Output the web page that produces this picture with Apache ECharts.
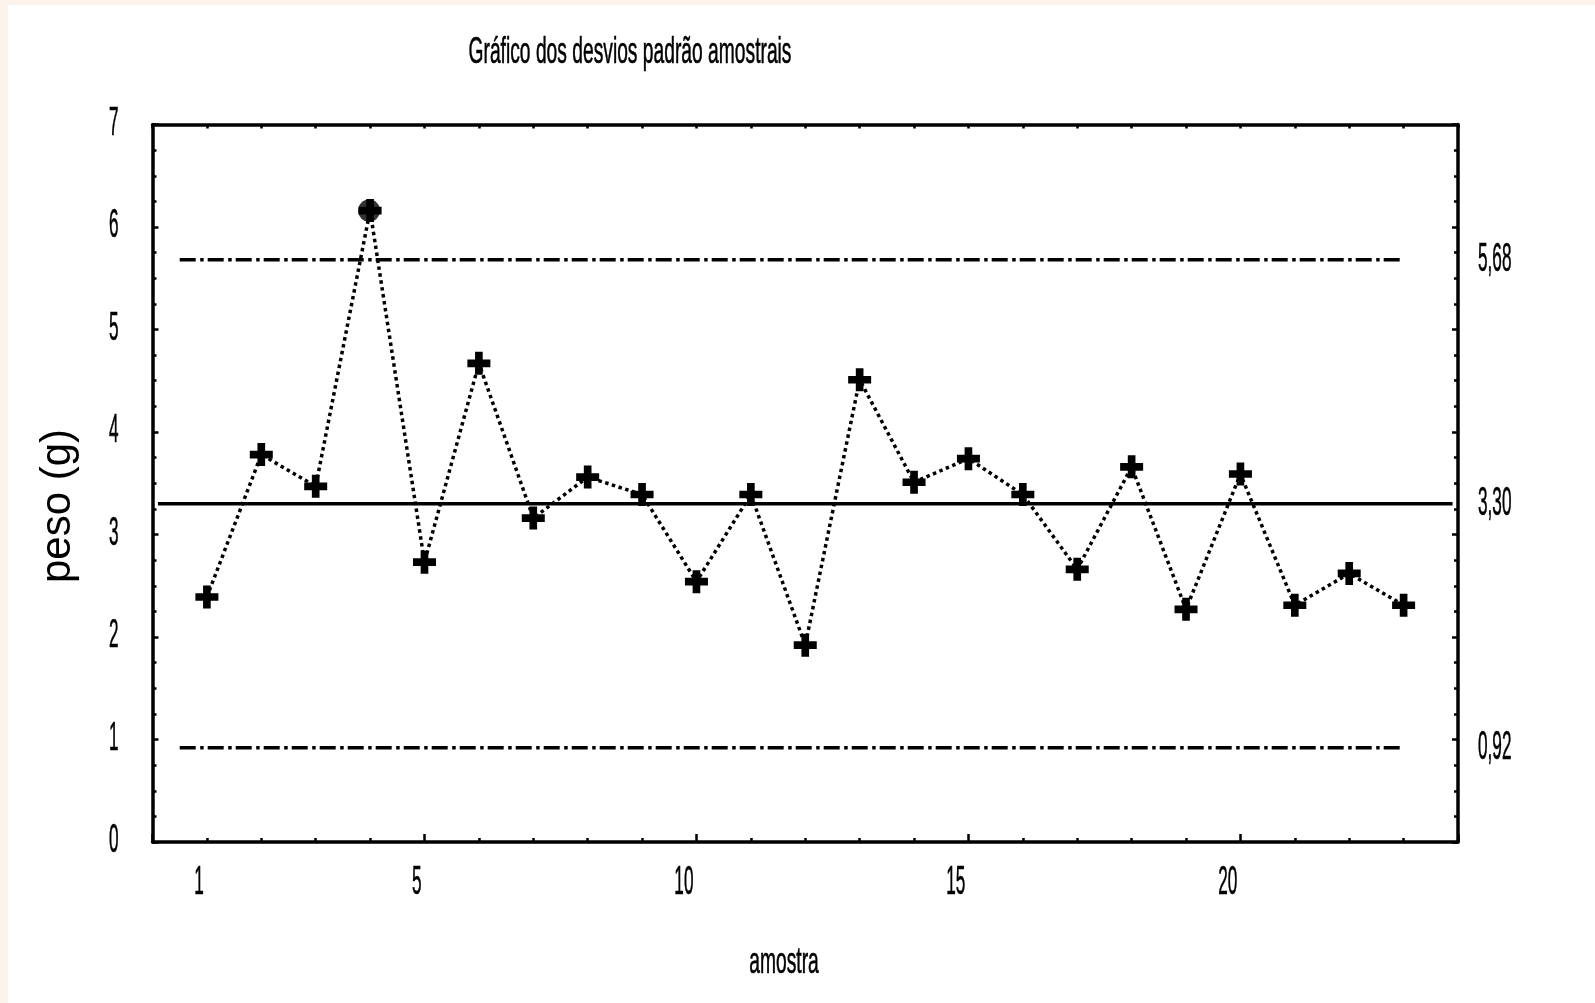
<!DOCTYPE html>
<html><head><meta charset="utf-8">
<script src="https://cdn.jsdelivr.net/npm/echarts@6/dist/echarts.min.js"></script>
<style>
html,body{margin:0;padding:0;width:1595px;height:1003px;background:#fdf3ed;overflow:hidden;}
#chart{position:absolute;left:8px;top:5px;width:1587px;height:998px;background:#ffffff;}
</style></head>
<body><div id="chart"></div>
<script>
// ---- data ----
const samples = [1,2,3,4,5,6,7,8,9,10,11,12,13,14,15,16,17,18,19,20,21,22,23];
const stdDevs = [2.39,3.78,3.47,6.16,2.73,4.67,3.16,3.56,3.39,2.54,3.39,1.92,4.51,3.51,3.74,3.39,2.66,3.66,2.27,3.59,2.31,2.62,2.31];
const centerValue = 3.30;
const upperLimit = 5.68;
const lowerLimit = 0.92;
const limitValues = [upperLimit, centerValue, lowerLimit];
const limitSpan = [0.5, 23];
const centerSpan = [0.1, 23.9];
const xTickValues = [1, 5, 10, 15, 20];
const xTickLabels = ['1', '5', '10', '15', '20'];
const yTickValues = [0, 1, 2, 3, 4, 5, 6, 7];
const yTickLabels = ['0', '1', '2', '3', '4', '5', '6', '7'];
const titleText = 'Gráfico dos desvios padrão amostrais';
const xName = 'amostra';
const yName = 'peso (g)';

// ---- chart ----
const FONT = "'Liberation Sans', Arial, sans-serif";
const BLACK = '#000000';
const chart = echarts.init(document.getElementById('chart'));
const crossPath = 'path://M3,0h3v3h3v3h-3v3h-3v-3h-3v-3h3z';
const fmt = v => v.toFixed(2).replace('.', ',');
const narrowText = (text, size, align) => ({
  text: text, fontSize: size, fontFamily: FONT, fill: BLACK,
  stroke: BLACK, lineWidth: 0.6, align: align, verticalAlign: 'middle'
});

function axisBase(extra) {
  return Object.assign({
    type: 'value',
    axisLine: {show: true, onZero: false, lineStyle: {color: BLACK, width: 3.5}},
    axisTick: {show: true, inside: true, length: 4, lineStyle: {color: BLACK, width: 2.5}},
    axisLabel: {show: false},
    splitLine: {show: false}
  }, extra);
}

const option = {
  animation: false,
  backgroundColor: '#ffffff',
  grid: {left: 144.5, top: 119.5, width: 1305.5, height: 717.5},
  xAxis: [
    axisBase({min: 0, max: 24, interval: 1, position: 'bottom'}),
    axisBase({min: 0, max: 24, interval: 5, position: 'bottom',
      axisLine: {show: false, onZero: false},
      axisTick: {show: true, inside: true, length: 8, lineStyle: {color: BLACK, width: 2.5}}}),
    axisBase({min: 0, max: 24, interval: 1, position: 'top'})
  ],
  yAxis: [
    axisBase({min: 0, max: 7, interval: 1, position: 'left',
      axisTick: {show: true, inside: true, length: 6, lineStyle: {color: BLACK, width: 2.5}},
      minorTick: {show: true, splitNumber: 4, length: 4, lineStyle: {color: BLACK, width: 2.5}}}),
    axisBase({min: 0, max: 7, interval: 1, position: 'right',
      axisTick: {show: true, inside: true, length: 6, lineStyle: {color: BLACK, width: 2.5}},
      minorTick: {show: true, splitNumber: 4, length: 4, lineStyle: {color: BLACK, width: 2.5}}})
  ],
  graphic: [
    {type: 'text', x: 622, y: 48, scaleX: 0.52, style: narrowText(titleText, 37, 'center')},
    {type: 'text', x: 776, y: 958, scaleX: 0.52, style: narrowText(xName, 37, 'center')},
    {type: 'text', x: 50, y: 501, rotation: Math.PI / 2,
      style: {text: yName, fontSize: 42, fontFamily: FONT, fill: BLACK, align: 'center', verticalAlign: 'middle'}}
  ],
  series: [
    {type: 'line', name: 'LC', silent: true, symbol: 'none', z: 2,
      data: [[centerSpan[0], centerValue], [centerSpan[1], centerValue]],
      lineStyle: {color: BLACK, width: 3.5, type: 'solid'}},
    {type: 'line', name: 'LSC', silent: true, symbol: 'none', z: 2,
      data: [[limitSpan[0], upperLimit], [limitSpan[1], upperLimit]],
      lineStyle: {color: BLACK, width: 3.5, type: [16, 4.5, 3.5, 4], cap: 'butt'}},
    {type: 'line', name: 'LIC', silent: true, symbol: 'none', z: 2,
      data: [[limitSpan[0], lowerLimit], [limitSpan[1], lowerLimit]],
      lineStyle: {color: BLACK, width: 3.5, type: [16, 4.5, 3.5, 4], cap: 'butt'}},
    {type: 'line', name: 's', z: 5,
      data: samples.map((s, i) => [s, stdDevs[i]]),
      symbol: crossPath, symbolSize: 23, showSymbol: true,
      itemStyle: {color: BLACK},
      lineStyle: {color: BLACK, width: 3.5, type: [3.5, 3.5], cap: 'butt'}},
    {type: 'scatter', name: 'fora', z: 6,
      data: samples.map((s, i) => [s, stdDevs[i]]).filter(d => d[1] > upperLimit),
      symbol: 'circle', symbolSize: 22, symbolOffset: [-1, 0], itemStyle: {color: BLACK}},
    {type: 'custom', name: 'yLabels', silent: true, clip: false, z: 10,
      data: yTickValues.map(v => [0, v]),
      renderItem: (params, api) => {
        const p = api.coord([api.value(0), api.value(1)]);
        return {type: 'text', x: p[0] - 34, y: p[1] - 1, scaleX: 0.43,
          style: narrowText(yTickLabels[params.dataIndex], 40, 'right')};
      }},
    {type: 'custom', name: 'xLabels', silent: true, clip: false, z: 10,
      data: xTickValues.map(v => [v, 0]),
      renderItem: (params, api) => {
        const p = api.coord([api.value(0), api.value(1)]);
        return {type: 'text', x: p[0] - 3, y: p[1] + 41, scaleX: 0.43,
          style: narrowText(xTickLabels[params.dataIndex], 40, 'right')};
      }},
    {type: 'custom', name: 'limitLabels', silent: true, clip: false, z: 10,
      data: limitValues.map(v => [24, v]),
      renderItem: (params, api) => {
        const p = api.coord([api.value(0), api.value(1)]);
        return {type: 'text', x: p[0] + 20, y: p[1] + 0, scaleX: 0.43,
          style: narrowText(fmt(limitValues[params.dataIndex]), 40, 'left')};
      }}
  ]
};
chart.setOption(option);
</script>
</body></html>
